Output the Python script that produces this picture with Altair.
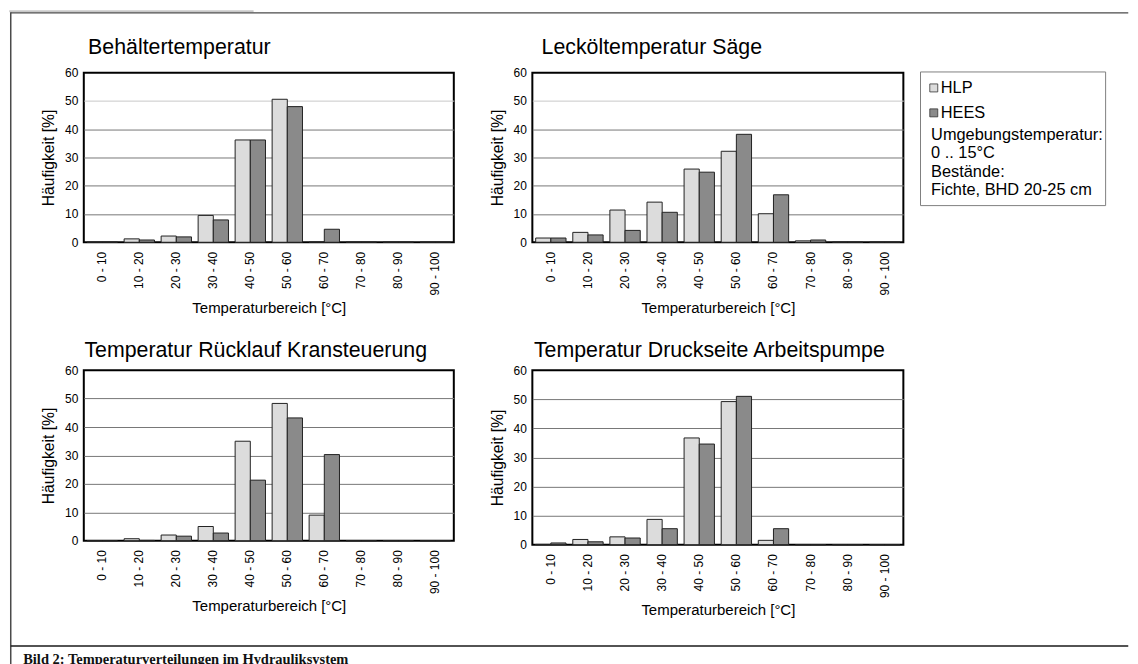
import altair as alt
import pandas as pd

# ---------------- data ----------------
categories = ["0 - 10", "10 - 20", "20 - 30", "30 - 40", "40 - 50",
              "50 - 60", "60 - 70", "70 - 80", "80 - 90", "90 - 100"]
series = ["HLP", "HEES"]
colors = ["#dcdcdc", "#8a8a8a"]

titles = ["Behältertemperatur", "Lecköltemperatur Säge",
          "Temperatur Rücklauf Kransteuerung", "Temperatur Druckseite Arbeitspumpe"]

hlp_behaelter = [0, 1.2, 2.2, 9.5, 36.2, 50.6, 0, 0, 0, 0]
hees_behaelter = [0, 0.8, 1.9, 7.9, 36.2, 48.0, 4.6, 0, 0, 0]
hlp_leckoel = [1.5, 3.5, 11.4, 14.2, 25.9, 32.2, 10.1, 0.5, 0, 0]
hees_leckoel = [1.5, 2.6, 4.2, 10.6, 24.8, 38.2, 16.8, 0.8, 0, 0]
hlp_ruecklauf = [0, 0.7, 2.0, 5.0, 35.0, 48.3, 9.0, 0, 0, 0]
hees_ruecklauf = [0, 0.1, 1.6, 2.7, 21.3, 43.2, 30.3, 0, 0, 0]
hlp_druck = [0.1, 1.8, 2.7, 8.7, 36.7, 49.2, 1.5, 0, 0, 0]
hees_druck = [0.6, 1.0, 2.3, 5.5, 34.6, 51.0, 5.5, 0, 0, 0]

y_ticks = [0, 10, 20, 30, 40, 50, 60]
x_title = "Temperaturbereich [°C]"
y_title = "Häufigkeit [%]"
legend_lines = ["Umgebungstemperatur:", "0 .. 15°C", "Bestände:", "Fichte, BHD 20-25 cm"]
caption = "Bild 2: Temperaturverteilungen im Hydrauliksystem"

FONT = "Liberation Sans"


def panel(title, hlp, hees, w, h, tdx, tdy, light50=False, extra=()):
    df = pd.DataFrame({
        "Bereich": categories * 2,
        "Serie": ["HLP"] * len(categories) + ["HEES"] * len(categories),
        "Wert": hlp + hees,
    })
    grid_color = ({"condition": {"test": "datum.value === 50", "value": "#c8c8c8"},
                   "value": "#777777"} if light50 else "#777777")
    bars = alt.Chart(df).mark_bar(stroke="#222222", strokeWidth=1).encode(
        x=alt.X("Bereich:N", sort=categories,
                scale=alt.Scale(paddingInner=0.18, paddingOuter=0.09),
                axis=alt.Axis(title=x_title, labelAngle=270, labelFontSize=12,
                              labelFont=FONT, titleFont=FONT, titleFontSize=15,
                              titleFontWeight="normal", labelColor="black",
                              titleColor="black", ticks=False, domain=False,
                              grid=False, labelPadding=9, titlePadding=5)),
        xOffset=alt.XOffset("Serie:N", sort=series,
                            scale=alt.Scale(paddingInner=0, paddingOuter=0)),
        y=alt.Y("Wert:Q", scale=alt.Scale(domain=[0, 60], nice=False),
                axis=alt.Axis(title=y_title, values=y_ticks, labelFontSize=12,
                              labelFont=FONT, titleFont=FONT, titleFontSize=15.7,
                              titleFontWeight="normal", labelColor="black",
                              titleColor="black", ticks=False, domain=False,
                              grid=True, gridColor=grid_color, gridWidth=1,
                              gridOpacity={"condition": {"test": "datum.value === 0 || datum.value === 60",
                                                         "value": 0}, "value": 1},
                              labelPadding=6, titlePadding=8)),
        fill=alt.Fill("Serie:N", scale=alt.Scale(domain=series, range=colors), legend=None),
    )
    ttl = alt.Chart(pd.DataFrame({"t": [title]})).mark_text(
        align="left", baseline="alphabetic", font=FONT, fontSize=21.4, color="black"
    ).encode(x=alt.value(tdx), y=alt.value(-tdy), text="t:N")
    return alt.layer(bars, ttl, *extra).properties(
        width=w, height=h,
        view=alt.ViewBackground(stroke="black", strokeWidth=2),
    )


one = pd.DataFrame({"a": [0]})

# page decorations, positioned relative to the first panel's plot area
decor = [
    alt.Chart(one).mark_rect(color="#c8c8c8").encode(
        x=alt.value(-74.75), x2=alt.value(170.25), y=alt.value(-62.75), y2=alt.value(-60.75)),
    alt.Chart(one).mark_rule(color="#4a4a4a", strokeWidth=1.5).encode(
        x=alt.value(-73.25), x2=alt.value(1047.25), y=alt.value(-60)),
    alt.Chart(one).mark_rule(color="#4a4a4a", strokeWidth=1.5).encode(
        x=alt.value(-73.25), y=alt.value(-60.75), y2=alt.value(597)),
    alt.Chart(one).mark_rule(color="#1a1a1a", strokeWidth=1.5).encode(
        x=alt.value(-73.25), x2=alt.value(1047.25), y=alt.value(574.75)),
    alt.Chart(pd.DataFrame({"t": [caption]})).mark_text(
        align="left", baseline="alphabetic", font="Liberation Serif",
        fontWeight="bold", fontSize=14.5, color="#111111"
    ).encode(x=alt.value(-60.75), y=alt.value(592.5), text="t:N"),
]

# legend box inside the second panel
legend = [
    alt.Chart(one).mark_rect(fill="white", stroke="#808080", strokeWidth=1).encode(
        x=alt.value(389.2), x2=alt.value(574.8), y=alt.value(-0.75), y2=alt.value(133.25)),
]
for i, (s, c) in enumerate(zip(series, colors)):
    yc = 15.25 + 25 * i
    legend.append(alt.Chart(one).mark_rect(fill=c, stroke="#333333", strokeWidth=0.8).encode(
        x=alt.value(398.5), x2=alt.value(406.5), y=alt.value(yc - 4), y2=alt.value(yc + 4)))
    legend.append(alt.Chart(pd.DataFrame({"t": [s]})).mark_text(
        align="left", baseline="middle", font=FONT, fontSize=16.4, color="black"
    ).encode(x=alt.value(409.5), y=alt.value(yc), text="t:N"))
for yc, line in zip([62.6, 81.0, 99.9, 117.6], legend_lines):
    legend.append(alt.Chart(pd.DataFrame({"t": [line]})).mark_text(
        align="left", baseline="middle", font=FONT, fontSize=16.4, color="black"
    ).encode(x=alt.value(399.8), y=alt.value(yc), text="t:N"))

p1 = panel(titles[0], hlp_behaelter, hees_behaelter, 371, 170, 4.3, 18.4, light50=True, extra=decor)
p2 = panel(titles[1], hlp_leckoel, hees_leckoel, 372, 170, 9.2, 19.0, light50=True, extra=legend)
p3 = panel(titles[2], hlp_ruecklauf, hees_ruecklauf, 371, 171, 0.6, 13.3)
p4 = panel(titles[3], hlp_druck, hees_druck, 372, 175, 1.6, 13.3)

chart = alt.concat(
    p1, p2, p3, p4, columns=2,
    spacing={"row": 128.25, "column": 78.75}, bounds="flush",
).properties(
    padding={"left": 0, "top": 0, "right": 0, "bottom": 0},
    background="white",
)

chart.save("out.html", embed_options={"renderer": "svg", "actions": False})
